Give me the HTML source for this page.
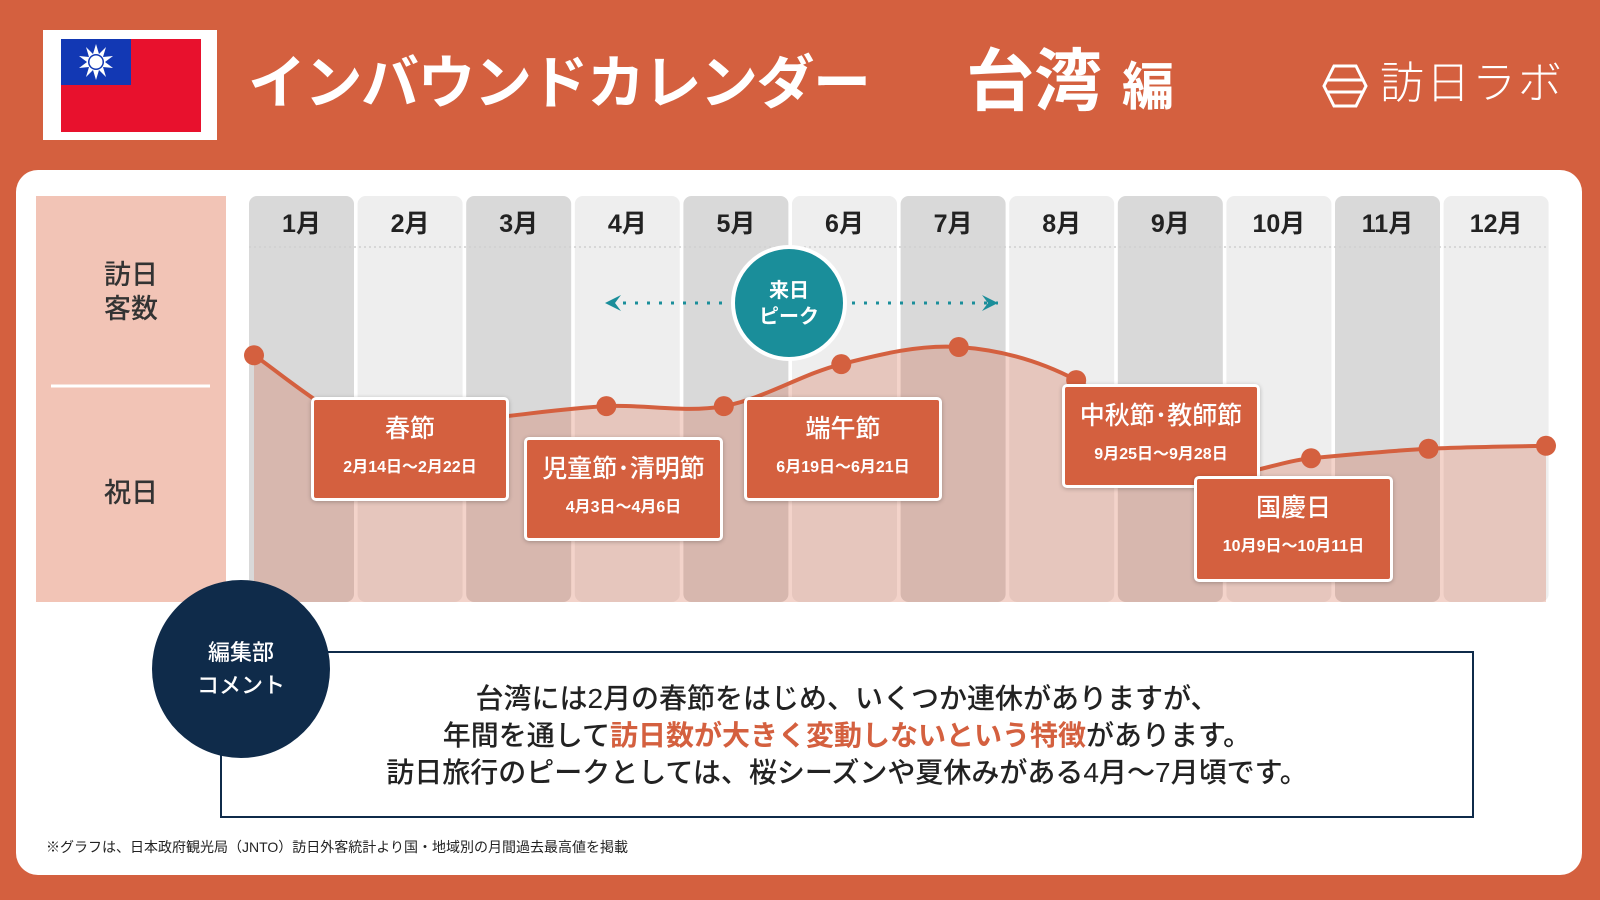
<!DOCTYPE html>
<html lang="ja"><head><meta charset="utf-8">
<style>
html,body{margin:0;padding:0;}
body{width:1600px;height:900px;overflow:hidden;background:#D4603F;position:relative;font-family:"Liberation Sans","Noto Sans CJK JP",sans-serif;}
.abs{position:absolute;}
.panel{left:16px;top:170px;width:1566px;height:705px;background:#fff;border-radius:22px;}
.title{left:248px;top:44px;font-size:58px;font-weight:700;color:#fff;letter-spacing:-1.5px;white-space:nowrap;line-height:80px;}
.country{left:966px;top:40px;font-size:68px;font-weight:700;color:#fff;line-height:84px;white-space:nowrap;}
.country small{font-size:52px;margin-left:20px;}
.logo{left:1380px;top:56px;font-size:44px;color:#fff;font-weight:300;line-height:56px;white-space:nowrap;letter-spacing:2px;}
.ev{position:absolute;background:#D4603F;border:3px solid #fff;border-radius:5px;box-sizing:border-box;color:#fff;text-align:center;box-shadow:0 1px 4px rgba(0,0,0,.25);}
.ev .t{font-size:25px;font-weight:500;line-height:30px;margin-top:14px;white-space:nowrap;}
.ev .d{font-size:16px;font-weight:700;line-height:20px;margin-top:14px;white-space:nowrap;}
.comment{left:220px;top:651px;width:1254px;height:167px;border:2px solid #0F2B4A;box-sizing:border-box;background:#fff;}
.ctext{left:220px;top:680px;width:1254px;text-align:center;font-size:28px;font-weight:500;line-height:37px;color:#222;}
.ctext b{color:#D4603F;}
</style></head><body>
<div class="abs panel"></div>

<svg class="abs" style="left:0;top:0" width="1600" height="900">
  <rect x="43" y="30" width="174" height="110" fill="#fff"/>
  <rect x="61" y="39" width="140" height="93" fill="#E8112D"/>
  <rect x="61" y="39" width="70" height="46" fill="#1238B4"/>
  <g fill="#fff">
    <polygon points="96,44 99,54 106,47 103,57 113,56 105,62 113,68 103,67 106,77 99,70 96,80 93,70 86,77 89,67 79,68 87,62 79,56 89,57 86,47 93,54"/>
    <circle cx="96" cy="62" r="8" fill="#1238B4"/>
    <circle cx="96" cy="62" r="6.5" fill="#fff"/>
  </g>
  <g fill="none" stroke="#fff" stroke-width="3">
    <polygon points="1334,66 1356,66 1366,86 1356,106 1334,106 1324,86"/>
    <line x1="1328" y1="80" x2="1362" y2="80"/><line x1="1328" y1="92" x2="1362" y2="92"/>
  </g>
</svg>
<div class="abs title">インバウンドカレンダー</div>
<div class="abs country">台湾<small>編</small></div>
<div class="abs logo">訪日ラボ</div>

<svg id="chart" class="abs" style="left:0;top:0" width="1600" height="900"></svg>

<div class="abs" style="left:36px;top:258px;width:190px;text-align:center;font-size:27px;font-weight:500;line-height:34px;color:#333">訪日<br>客数</div>
<div class="abs" style="left:36px;top:476px;width:190px;text-align:center;font-size:27px;font-weight:500;line-height:34px;color:#333">祝日</div>

<div class="abs" style="left:735px;top:278px;width:108px;text-align:center;color:#fff;font-size:20px;font-weight:700;line-height:26px">来日<br>ピーク</div>

<div class="ev" style="left:311px;top:397px;width:198px;height:104px"><div class="t">春節</div><div class="d">2月14日～2月22日</div></div>
<div class="ev" style="left:524px;top:437px;width:199px;height:104px"><div class="t">児童節･清明節</div><div class="d">4月3日～4月6日</div></div>
<div class="ev" style="left:744px;top:397px;width:198px;height:104px"><div class="t">端午節</div><div class="d">6月19日～6月21日</div></div>
<div class="ev" style="left:1062px;top:384px;width:198px;height:104px"><div class="t">中秋節･教師節</div><div class="d">9月25日～9月28日</div></div>
<div class="ev" style="left:1194px;top:476px;width:199px;height:106px"><div class="t">国慶日</div><div class="d">10月9日～10月11日</div></div>

<div class="abs comment"></div>
<div class="abs ctext">台湾には2月の春節をはじめ、いくつか連休がありますが、<br>年間を通して<b>訪日数が大きく変動しないという特徴</b>があります。<br>訪日旅行のピークとしては、桜シーズンや夏休みがある4月～7月頃です。</div>
<div class="abs" style="left:152px;top:580px;width:178px;height:178px;border-radius:50%;background:#0F2B4A"></div>
<div class="abs" style="left:152px;top:636px;width:178px;text-align:center;color:#fff;font-size:22px;font-weight:500;line-height:33px">編集部<br>コメント</div>
<div class="abs" style="left:46px;top:837px;font-size:14px;color:#222;white-space:nowrap">※グラフは、日本政府観光局（JNTO）訪日外客統計より国・地域別の月間過去最高値を掲載</div>

<script>
const months = ["1月","2月","3月","4月","5月","6月","7月","8月","9月","10月","11月","12月"];
const visitors = [417,292,311,331,331,402,431,375,221,243,259,264];
const yMax = 600;

const NS = "http://www.w3.org/2000/svg";
const svg = document.getElementById("chart");
const colLeft = 249, colPitch = 108.6, colW = 105, chartTop = 196, chartBottom = 602, dashY = 247;
const ptLeft = 254, ptRight = 1546;
function xCol(i){ return colLeft + i*colPitch; }
function xPt(i){ return ptLeft + i*(ptRight-ptLeft)/(months.length-1); }
function yVal(v){ return chartBottom - v*(chartBottom-dashY)/yMax; }
function mk(tag, attrs){ const e=document.createElementNS(NS,tag); for(const k in attrs) e.setAttribute(k,attrs[k]); svg.appendChild(e); return e; }

const lp = mk("rect",{x:36,y:196,width:190,height:406,fill:"#F2C4B6"});


const dv = mk("line",{x1:51,y1:386,x2:210,y2:386,stroke:"#fff","stroke-width":3});



months.forEach((m,i)=>{
  const c = mk("rect",{x:xCol(i),y:chartTop,width:colW,height:chartBottom-chartTop,rx:8,fill:i%2===0?"#D9D9D9":"#EEEEEE"});
  
  
  const t = mk("text",{x:xCol(i)+colW/2,y:232,"text-anchor":"middle","font-size":25,"font-weight":700,fill:"#222","font-family":"Liberation Sans, Noto Sans CJK JP, sans-serif"});
  t.textContent = m;
  
  
});
const dl = mk("line",{x1:colLeft,y1:dashY,x2:1549,y2:dashY,stroke:"#cfcfcf","stroke-width":1.5,"stroke-dasharray":"2 3"});



const pts = visitors.map((v,i)=>[xPt(i),yVal(v)]);
let d = `M${pts[0][0]},${pts[0][1]}`;
for(let i=0;i<pts.length-1;i++){
  const p0=pts[Math.max(0,i-1)],p1=pts[i],p2=pts[i+1],p3=pts[Math.min(pts.length-1,i+2)];
  const c1=[p1[0]+(p2[0]-p0[0])/6,p1[1]+(p2[1]-p0[1])/6];
  const c2=[p2[0]-(p3[0]-p1[0])/6,p2[1]-(p3[1]-p1[1])/6];
  d+=` C${c1[0]},${c1[1]} ${c2[0]},${c2[1]} ${p2[0]},${p2[1]}`;
}
const area = mk("path",{d:d+` L${pts[pts.length-1][0]},${chartBottom} L${pts[0][0]},${chartBottom} Z`,fill:"#D4603F","fill-opacity":0.28});


const line = mk("path",{d:d,fill:"none",stroke:"#D4603F","stroke-width":4});


pts.forEach((p,i)=>{
  const c = mk("circle",{cx:p[0],cy:p[1],r:10,fill:"#D4603F"});
  
  
});

const arrows = [[722,605],[852,998]];
arrows.forEach(a=>{
  const l = mk("line",{x1:a[0],y1:303,x2:a[1],y2:303,stroke:"#1A8E9A","stroke-width":3,"stroke-dasharray":"3 9"});
  
  
  const dir = a[1]>a[0]?1:-1;
  const h = mk("polygon",{points:`${a[1]},303 ${a[1]-dir*16},295 ${a[1]-dir*10},303 ${a[1]-dir*16},311`,fill:"#1A8E9A"});
  
  
});
const pc = mk("circle",{cx:789,cy:303,r:56,fill:"#1A8E9A",stroke:"#fff","stroke-width":4});


</script>
</body></html>
